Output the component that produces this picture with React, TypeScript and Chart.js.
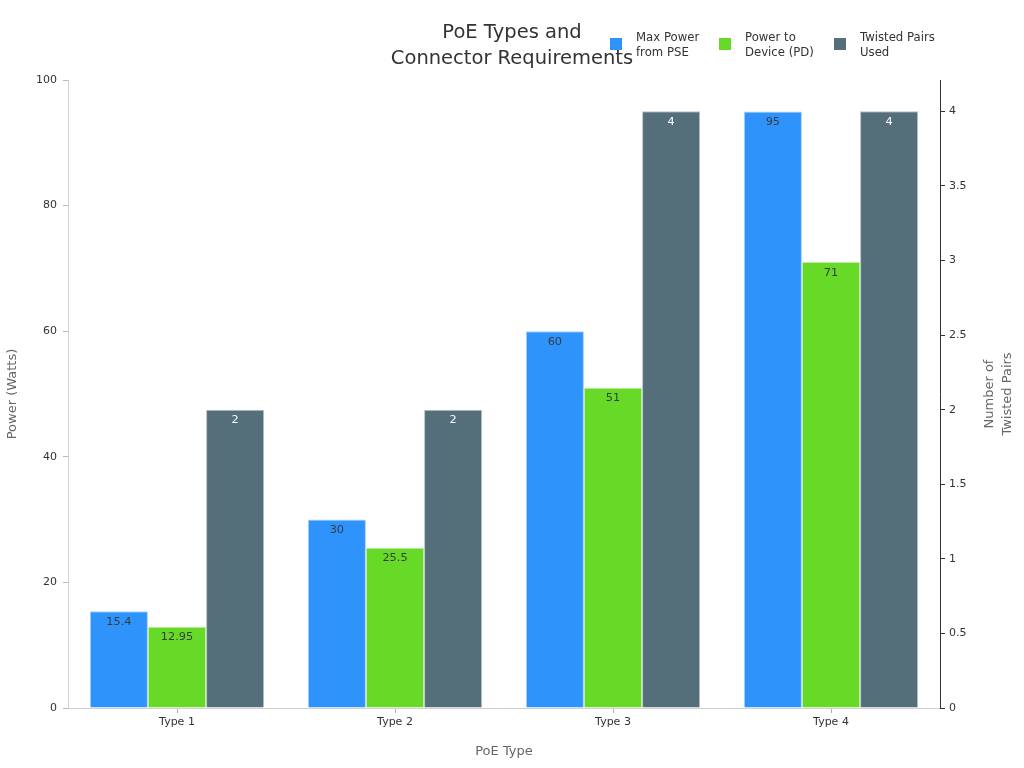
import React, { useEffect, useRef } from "react";
import { Chart, registerables } from "chart.js";

Chart.register(...registerables);

const categories = ["Type 1", "Type 2", "Type 3", "Type 4"];
const maxPowerPSE = [15.4, 30, 60, 95];
const powerToPD = [12.95, 25.5, 51, 71];
const twistedPairs = [2, 2, 4, 4];
const seriesLabels = [
  ["Max Power", "from PSE"],
  ["Power to", "Device (PD)"],
  ["Twisted Pairs", "Used"],
];
const seriesColors = ["#2E93FA", "#66DA26", "#546E7A"];
const seriesEdgeColors = ["#a9d2fc", "#c0eea6", "#b4c2c8"];
const titleLines = ["PoE Types and", "Connector Requirements"];
const xTitle = "PoE Type";
const yTitle = "Power (Watts)";
const y1TitleLines = ["Number of", "Twisted Pairs"];

const FONT = "'DejaVu Sans', sans-serif";

const overlayPlugin = {
  id: "overlay",
  afterDatasetsDraw(chart: any) {
    const ctx = chart.ctx;
    ctx.save();
    ctx.font = `11.3px ${FONT}`;
    ctx.textAlign = "center";
    ctx.textBaseline = "middle";
    chart.data.datasets.forEach((ds: any, di: number) => {
      const meta = chart.getDatasetMeta(di);
      meta.data.forEach((el: any, i: number) => {
        ctx.fillStyle = di === 2 ? "#ffffff" : "#373d3f";
        ctx.fillText(String(ds.data[i]), el.x, el.y + 10.5);
      });
    });
    ctx.restore();
  },
  afterDraw(chart: any) {
    const ctx = chart.ctx;
    ctx.save();
    // title
    ctx.fillStyle = "#333333";
    ctx.font = `19.5px ${FONT}`;
    ctx.textAlign = "center";
    ctx.textBaseline = "middle";
    ctx.fillText(titleLines[0], 512, 33);
    ctx.fillText(titleLines[1], 512, 59);
    // legend
    const boxX = [610, 719, 834];
    ctx.font = `11.7px ${FONT}`;
    ctx.textAlign = "left";
    seriesLabels.forEach((lines, i) => {
      ctx.fillStyle = seriesColors[i];
      ctx.fillRect(boxX[i], 38, 12, 12);
      ctx.fillStyle = "#333333";
      ctx.fillText(lines[0], boxX[i] + 26, 37.5);
      ctx.fillText(lines[1], boxX[i] + 26, 52.5);
    });
    // right axis title
    const area = chart.chartArea;
    const cy = (area.top + area.bottom) / 2;
    ctx.font = `13px ${FONT}`;
    ctx.fillStyle = "#666666";
    ctx.textAlign = "center";
    ctx.translate(999, cy);
    ctx.rotate(-Math.PI / 2);
    ctx.fillText(y1TitleLines[0], 0, -9);
    ctx.fillText(y1TitleLines[1], 0, 9);
    ctx.restore();
  },
};

export default function App() {
  const ref = useRef<HTMLCanvasElement | null>(null);
  useEffect(() => {
    if (!ref.current) return;
    Chart.defaults.font.family = FONT;
    const chart = new Chart(ref.current, {
      type: "bar",
      data: {
        labels: categories,
        datasets: [
          { label: seriesLabels[0].join(" "), data: maxPowerPSE, backgroundColor: seriesColors[0], borderColor: seriesEdgeColors[0], yAxisID: "y" },
          { label: seriesLabels[1].join(" "), data: powerToPD, backgroundColor: seriesColors[1], borderColor: seriesEdgeColors[1], yAxisID: "y" },
          { label: seriesLabels[2].join(" "), data: twistedPairs, backgroundColor: seriesColors[2], borderColor: seriesEdgeColors[2], yAxisID: "y1" },
        ].map((d) => ({
          ...d,
          borderWidth: 1,
          categoryPercentage: 0.8,
          barPercentage: 1.0,
        })),
      },
      options: {
        responsive: false,
        animation: false,
        layout: { padding: { top: 80, left: 0, right: 0, bottom: 0 } },
        plugins: {
          legend: { display: false },
          title: { display: false },
          tooltip: { enabled: false },
        },
        scales: {
          x: {
            grid: { display: true, drawOnChartArea: false, drawTicks: true, tickLength: 5, color: "#b0b0b0", offset: false },
            border: { color: "#d0d0d0" },
            ticks: { color: "#333333", font: { size: 11 }, padding: 3 },
            title: { display: true, text: xTitle, color: "#666666", font: { size: 13 }, padding: { top: 4, bottom: 9 } },
            afterFit: (s: any) => { s.height = 60; },
          },
          y: {
            position: "left",
            min: 0,
            max: 100,
            grid: { display: true, drawOnChartArea: false, drawTicks: true, tickLength: 5, color: "#b8b8b8" },
            border: { color: "#d0d0d0" },
            ticks: { stepSize: 20, color: "#333333", font: { size: 11 }, padding: 6 },
            title: { display: true, text: yTitle, color: "#666666", font: { size: 13 }, padding: { top: 5, bottom: 5 } },
            afterFit: (s: any) => { s.width = 68; },
          },
          y1: {
            position: "right",
            min: 0,
            max: 4.21,
            grid: { display: true, drawOnChartArea: false, drawTicks: true, tickLength: 5, color: "#333333" },
            border: { color: "#333333" },
            ticks: { stepSize: 0.5, color: "#333333", font: { size: 11 }, padding: 4, callback: (v: any) => String(v) },
            afterBuildTicks: (s: any) => { s.ticks = s.ticks.filter((t: any) => t.value <= 4.0001); },
            afterFit: (s: any) => { s.width = 84; },
          },
        },
      } as any,
      plugins: [overlayPlugin],
    });
    return () => chart.destroy();
  }, []);
  return (
    <div style={{ position: "fixed", left: 0, top: 0, width: 1024, height: 768, background: "#fff" }}>
      <canvas ref={ref} width={1024} height={768} />
    </div>
  );
}
